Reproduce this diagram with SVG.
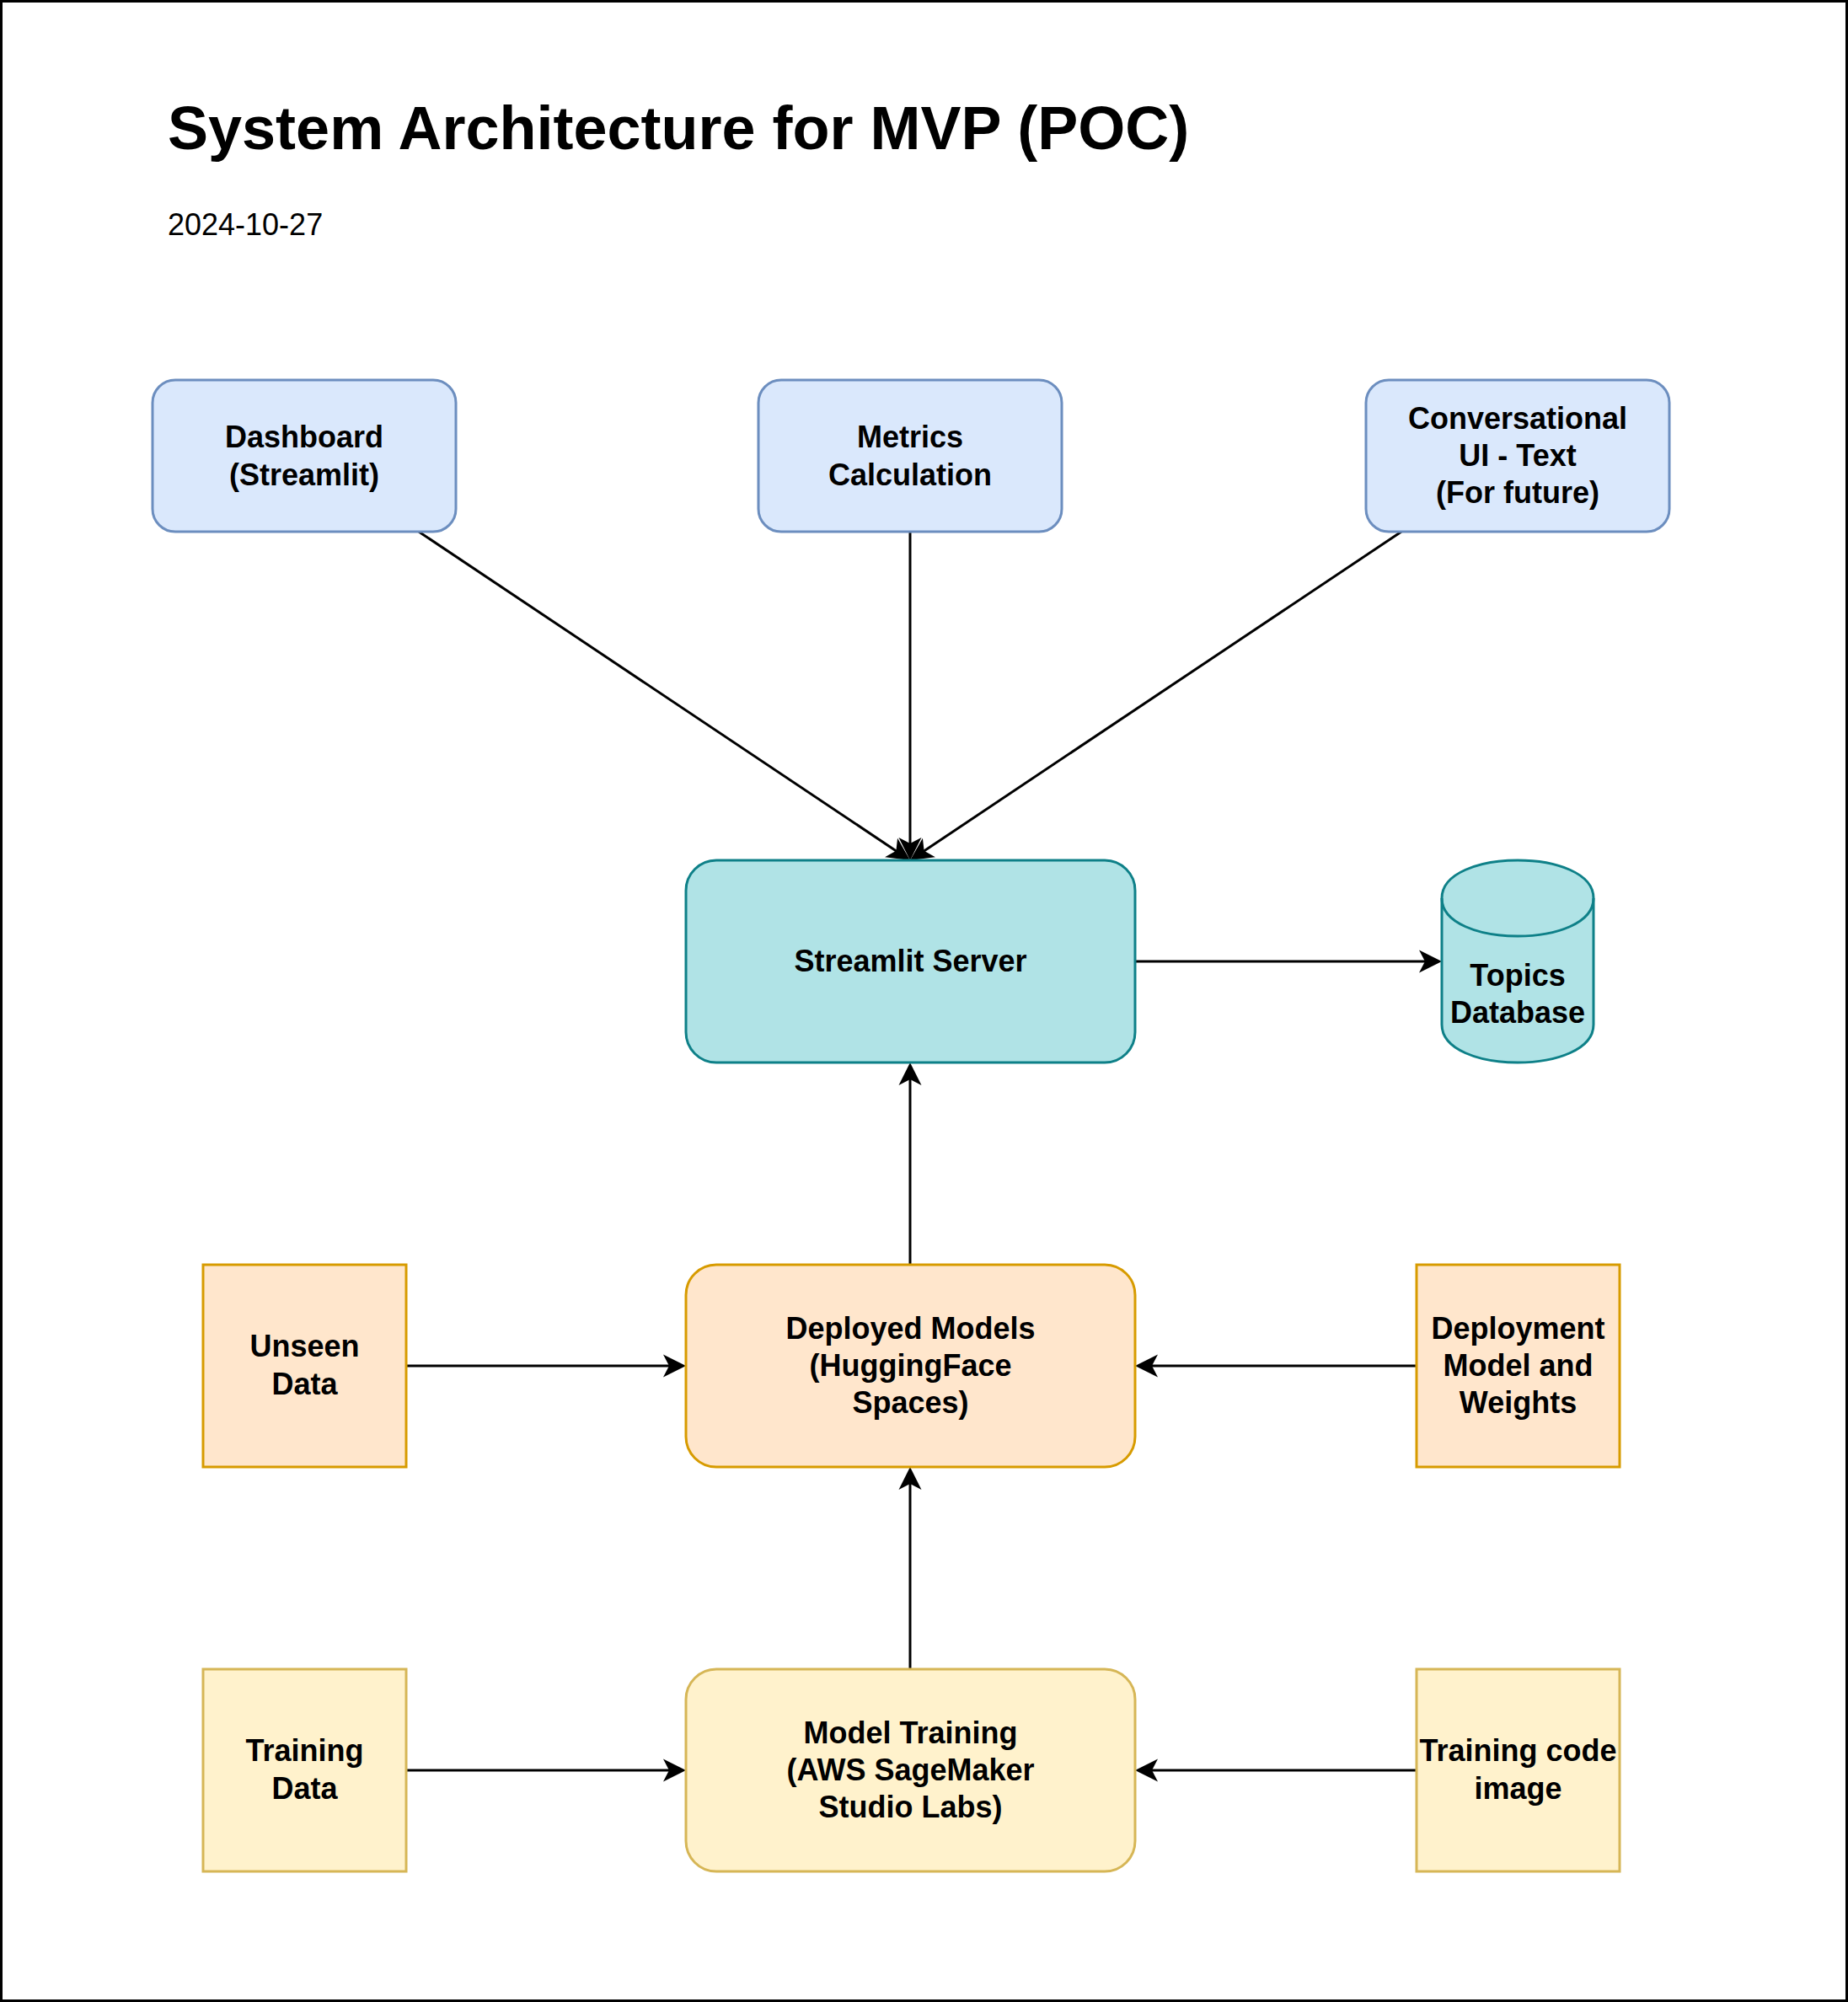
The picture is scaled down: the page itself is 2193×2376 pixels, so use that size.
<svg xmlns="http://www.w3.org/2000/svg" width="2193" height="2376" viewBox="0 0 2193 2376">
<defs>
<style>
.t{font-family:"Liberation Sans",Arial,sans-serif;font-weight:bold;font-size:36px;fill:#000;text-anchor:middle}
.blue{fill:#dae8fc;stroke:#6c8ebf;stroke-width:3}
.teal{fill:#b0e3e6;stroke:#0e8088;stroke-width:3}
.orange{fill:#ffe6cc;stroke:#d79b00;stroke-width:3}
.yellow{fill:#fff2cc;stroke:#d6b656;stroke-width:3}
.edge{fill:none;stroke:#000;stroke-width:3;marker-end:url(#arr)}
</style>
<marker id="arr" viewBox="-18 -15 30 30" refX="0" refY="0" markerWidth="30" markerHeight="30" markerUnits="userSpaceOnUse" orient="auto">
<path d="M10,0 L-17,-13.5 L-10,0 L-17,13.5 Z" fill="#000" stroke="none"/>
</marker>
</defs>
<rect x="0" y="0" width="2193" height="2376" fill="#fff"/>
<rect x="1.5" y="1.5" width="2190" height="2373" fill="none" stroke="#000" stroke-width="3"/>

<g id="title">
<text x="199" y="177" font-family="'Liberation Sans',Arial,sans-serif" font-weight="bold" font-size="72">System Architecture for MVP (POC)</text>
<text x="199" y="279" font-family="'Liberation Sans',Arial,sans-serif" font-size="36">2024-10-27</text>
</g>

<g id="connectors">
<path class="edge" d="M497,631 L1071.7,1015.4"/>
<path class="edge" d="M1080,631 L1080,1011"/>
<path class="edge" d="M1663,631 L1088.3,1015.4"/>
<path class="edge" d="M1347,1141 L1701,1141"/>
<path class="edge" d="M1080,1501 L1080,1271"/>
<path class="edge" d="M482,1621 L804,1621"/>
<path class="edge" d="M1681,1621 L1357,1621"/>
<path class="edge" d="M1080,1981 L1080,1751"/>
<path class="edge" d="M482,2101 L804,2101"/>
<path class="edge" d="M1681,2101 L1357,2101"/>
</g>

<g id="dashboard">
<rect class="blue" x="181" y="451" width="360" height="180" rx="27" ry="27"/>
<text class="t" x="361" y="531">Dashboard</text>
<text class="t" x="361" y="576">(Streamlit)</text>
</g>
<g id="metrics">
<rect class="blue" x="900" y="451" width="360" height="180" rx="27" ry="27"/>
<text class="t" x="1080" y="531">Metrics</text>
<text class="t" x="1080" y="576">Calculation</text>
</g>
<g id="conversational">
<rect class="blue" x="1621" y="451" width="360" height="180" rx="27" ry="27"/>
<text class="t" x="1801" y="509">Conversational</text>
<text class="t" x="1801" y="553">UI - Text</text>
<text class="t" x="1801" y="597">(For future)</text>
</g>

<g id="streamlit-server">
<rect class="teal" x="814" y="1021" width="533" height="240" rx="36" ry="36"/>
<text class="t" x="1080.5" y="1153">Streamlit Server</text>
</g>

<g id="topics-db">
<path class="teal" d="M1711,1066 C1711,1006 1891,1006 1891,1066 L1891,1216 C1891,1276 1711,1276 1711,1216 Z"/>
<path d="M1711,1066 C1711,1126 1891,1126 1891,1066" fill="none" stroke="#0e8088" stroke-width="3"/>
<text class="t" x="1801" y="1170">Topics</text>
<text class="t" x="1801" y="1214">Database</text>
</g>

<g id="unseen-data">
<rect class="orange" x="241" y="1501" width="241" height="240"/>
<text class="t" x="361.5" y="1610">Unseen</text>
<text class="t" x="361.5" y="1655">Data</text>
</g>
<g id="deployed-models">
<rect class="orange" x="814" y="1501" width="533" height="240" rx="36" ry="36"/>
<text class="t" x="1080.5" y="1589">Deployed Models</text>
<text class="t" x="1080.5" y="1633">(HuggingFace</text>
<text class="t" x="1080.5" y="1677">Spaces)</text>
</g>
<g id="deployment-model">
<rect class="orange" x="1681" y="1501" width="241" height="240"/>
<text class="t" x="1801.5" y="1589">Deployment</text>
<text class="t" x="1801.5" y="1633">Model and</text>
<text class="t" x="1801.5" y="1677">Weights</text>
</g>

<g id="training-data">
<rect class="yellow" x="241" y="1981" width="241" height="240"/>
<text class="t" x="361.5" y="2090">Training</text>
<text class="t" x="361.5" y="2135">Data</text>
</g>
<g id="model-training">
<rect class="yellow" x="814" y="1981" width="533" height="240" rx="36" ry="36"/>
<text class="t" x="1080.5" y="2069">Model Training</text>
<text class="t" x="1080.5" y="2113">(AWS SageMaker</text>
<text class="t" x="1080.5" y="2157">Studio Labs)</text>
</g>
<g id="training-code">
<rect class="yellow" x="1681" y="1981" width="241" height="240"/>
<text class="t" x="1801.5" y="2090">Training code</text>
<text class="t" x="1801.5" y="2135">image</text>
</g>
</svg>
